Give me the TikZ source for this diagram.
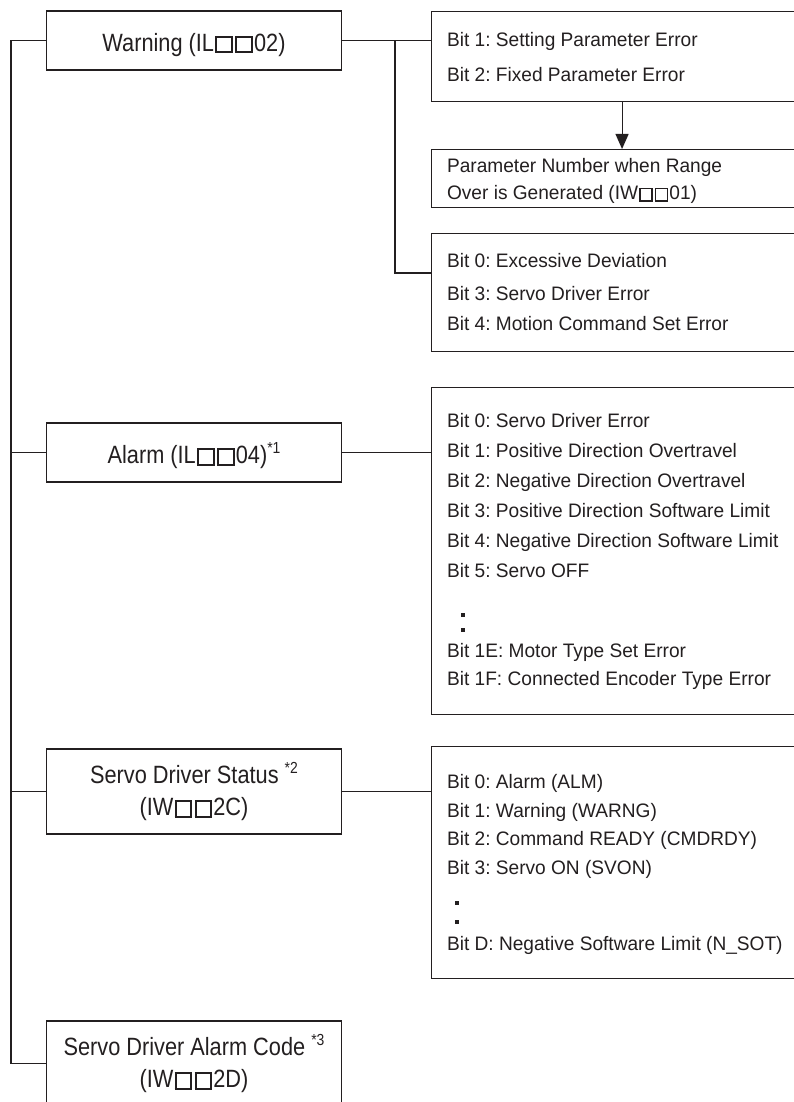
\documentclass[tikz,border=0pt]{standalone}
\usepackage{fontspec}
\setmainfont{Liberation Sans}
\newfontfamily\labelfont[FakeStretch=0.87]{Liberation Sans}
\newfontfamily\bitfont[FakeStretch=0.98]{Liberation Sans}
\usetikzlibrary{arrows.meta}
\definecolor{ink}{RGB}{35,31,32}
\frenchspacing
% footnote mark after a register name
\newcommand\fnote[1]{\raisebox{10pt}{\fontsize{16}{16}\selectfont *#1}}
% open square placeholder in register names
\newcommand\sq{\kern0.05em{\setlength\fboxsep{0pt}\setlength\fboxrule{0.08em}%
  \fbox{\rule{0pt}{0.54em}\rule{0.54em}{0pt}}}\kern0.05em}

\begin{document}
\begin{tikzpicture}[x=1pt,y=-1pt,line width=1.1pt,ink,
  mainbox/.style={draw,minimum width=295pt,minimum height=59pt,inner sep=0pt,
    font=\labelfont\fontsize{25}{32}\selectfont,text height=22pt,text depth=0pt},
  twobox/.style={draw,minimum width=295pt,minimum height=85pt,inner sep=0pt,
    align=center,font=\labelfont\fontsize{25}{32}\selectfont},
  bitbox/.style={draw,anchor=north west,minimum width=381pt,inner sep=0pt},
  bit/.style={anchor=base west,inner sep=0pt,font=\bitfont\fontsize{19.5}{23}\selectfont}]
  \useasboundingbox (0,0) rectangle (794,1102);

  % registers on the left
  \node[mainbox] (warn)  at (194,40.5)  {Warning (IL\sq\sq02)};
  \node[mainbox] (alarm) at (194,452.5) {Alarm (IL\sq\sq04)\fnote{1}};
  \node[twobox] (status) at (194,791.5) {Servo Driver Status \fnote{2}\\(IW\sq\sq2C)};
  \node[twobox] (code)   at (194,1063.5) {Servo Driver Alarm Code \fnote{3}\\(IW\sq\sq2D)};

  % bit lists on the right
  \node[bitbox,minimum height=90pt]  (wbitsA) at (431,11) {};
  \node[bitbox,minimum height=58pt]  (param)  at (431,149) {};
  \node[bitbox,minimum height=118pt] (wbitsB) at (431,233) {};
  \node[bitbox,minimum height=327pt] (abits)  at (431,387) {};
  \node[bitbox,minimum height=232pt] (sbits)  at (431,746) {};

  \foreach \y/\t [count=\i] in {47/Bit 1: Setting Parameter Error,
      82/Bit 2: Fixed Parameter Error}
    \node[bit] (wa\i) at (446.5,\y) {\t};
  \foreach \y/\t [count=\i] in {173/Parameter Number when Range,
      200/Over is Generated (IW\sq\sq01)}
    \node[bit] (pn\i) at (446.5,\y) {\t};
  \foreach \y/\t [count=\i] in {267/Bit 0: Excessive Deviation,
      300/Bit 3: Servo Driver Error, 330/Bit 4: Motion Command Set Error}
    \node[bit] (wb\i) at (446.5,\y) {\t};
  \foreach \y/\t [count=\i] in {427/Bit 0: Servo Driver Error,
      457/Bit 1: Positive Direction Overtravel,
      487/Bit 2: Negative Direction Overtravel,
      517/Bit 3: Positive Direction Software Limit,
      547/Bit 4: Negative Direction Software Limit,
      577/Bit 5: Servo OFF,
      657/Bit 1E: Motor Type Set Error,
      685/Bit 1F: Connected Encoder Type Error}
    \node[bit] (ab\i) at (446.5,\y) {\t};
  \foreach \y/\t [count=\i] in {788/Bit 0: Alarm (ALM),
      817/Bit 1: Warning (WARNG),
      845/Bit 2: Command READY (CMDRDY),
      874/Bit 3: Servo ON (SVON),
      950/Bit D: Negative Software Limit (N\_SOT)}
    \node[bit] (sb\i) at (446.5,\y) {\t};

  % skipped bits
  \foreach \x/\y in {463/615, 463/630, 457/903, 457/922}
    \fill (\x-1.6,\y-1.6) rectangle (\x+1.6,\y+1.6);

  % trunk line and branches
  \coordinate (trunk) at (11,0);
  \coordinate (wlink) at (395,273);
  \draw (warn.west) -- (warn.west -| trunk) -- (code.west -| trunk) -- (code.west);
  \foreach \b in {alarm,status}
    \draw (\b.west) -- (\b.west -| trunk);

  \draw (warn.east) -- (warn.east -| wbitsA.west);
  \draw (warn.east -| wlink) -- (wlink) -- (wlink -| wbitsB.west);
  \draw (alarm.east) -- (alarm.east -| abits.west);
  \draw (status.east) -- (status.east -| sbits.west);
  \draw[-{Triangle[width=13pt,length=15pt]}] (wbitsA.south) -- (param.north);
\end{tikzpicture}
\end{document}
